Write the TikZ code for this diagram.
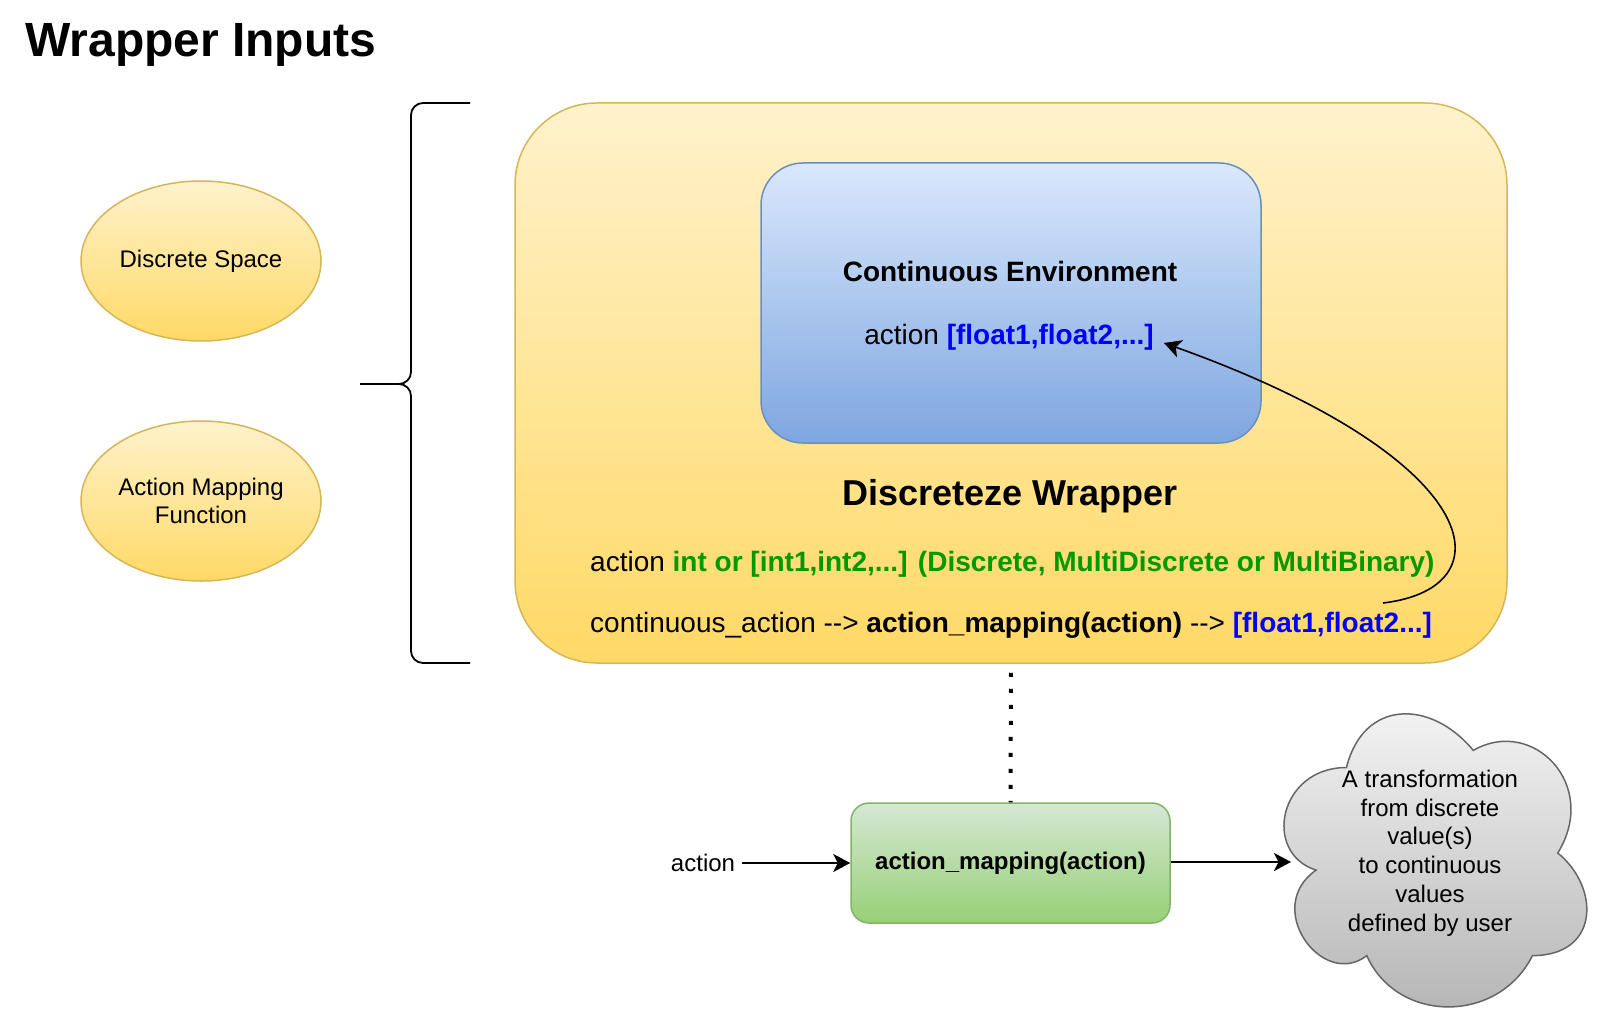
\documentclass[tikz,border=0pt]{standalone}
\usepackage{fontspec}
\setmainfont{Liberation Sans}
\usetikzlibrary{arrows.meta,shapes.geometric}
\definecolor{ylwA}{HTML}{FFF2CC}
\definecolor{ylwB}{HTML}{FFD966}
\definecolor{ylwS}{HTML}{D6B656}
\definecolor{bluA}{HTML}{DAE8FC}
\definecolor{bluB}{HTML}{7EA6E0}
\definecolor{bluS}{HTML}{6C8EBF}
\definecolor{grnA}{HTML}{D5E8D4}
\definecolor{grnB}{HTML}{97D077}
\definecolor{grnS}{HTML}{82B366}
\definecolor{gryA}{HTML}{F5F5F5}
\definecolor{gryB}{HTML}{B3B3B3}
\definecolor{gryS}{HTML}{666666}
\definecolor{txtG}{HTML}{009900}
\definecolor{txtB}{HTML}{0000FF}
\tikzset{
  fa/.style={font=\fontsize{24}{28.8}\selectfont},
  fb/.style={font=\fontsize{28}{33.6}\selectfont},
  fc/.style={font=\fontsize{36}{43}\selectfont\bfseries},
  fd/.style={font=\fontsize{48}{57}\selectfont\bfseries},
  ylwfill/.style={top color=ylwA, bottom color=ylwB, draw=ylwS, line width=1.5pt},
  arr/.style={line width=2pt, -{Stealth[length=17pt,width=18pt,inset=4.5pt]}},
}
\begin{document}
\begin{tikzpicture}[x=1pt,y=-1pt]
\useasboundingbox (0,0) rectangle (1600,1024);
\fill[white] (0,0) rectangle (1600,1024);

% title
\node[fd, anchor=base west, inner sep=0] (title) at (25,57) {Wrapper Inputs};

% input ellipses
\node[ellipse, ylwfill, minimum width=240pt, minimum height=160pt, inner sep=0, fa] (dspace) at (201,261) {Discrete Space};
\node[ellipse, ylwfill, minimum width=240pt, minimum height=160pt, inner sep=0, fa, align=center] (amf) at (201,501) {Action Mapping\\Function};

% brace
\draw[line width=1.8pt, rounded corners=12pt] (470,103) -- (411,103) -- (411,384) -- (360,384);
\draw[line width=1.8pt, rounded corners=12pt] (360,384) -- (411,384) -- (411,663) -- (470,663);

% wrapper box
\node[ylwfill, rounded corners=82pt, minimum width=992pt, minimum height=560pt, inner sep=0] (wrap) at (1011,383) {};
% continuous environment
\node[top color=bluA, bottom color=bluB, draw=bluS, line width=1.5pt, rounded corners=42pt, minimum width=500pt, minimum height=280pt, inner sep=0] (env) at (1011,303) {};
\node[fb, anchor=base, inner sep=0] (envtitle) at (1010,282) {\bfseries Continuous Environment};
\node[fb, anchor=base, inner sep=0] (envact) at (1009,344) {action \textcolor{txtB}{\bfseries [float1,float2,...]}};

\node[fc, anchor=base, inner sep=0] (wtitle) at (1010,505) {Discreteze Wrapper};
\node[fb, anchor=base west, inner sep=0] (wline1) at (590,571) {action \textcolor{txtG}{\bfseries int or [int1,int2,...] (Discrete, MultiDiscrete or MultiBinary)}};
\node[fb, anchor=base west, inner sep=0] (wline2) at (590,632) {continuous\_action -{}-> \textbf{action\_mapping(action)} -{}-> \textcolor{txtB}{\bfseries [float1,float2...]}};

\coordinate (cstart) at (1383,603);
\coordinate (cend) at (1164,343);
\draw[arr, line width=1.6pt] (cstart) .. controls (1510,588) and (1486,458) .. (cend);

% mapping function box
\node[top color=grnA, bottom color=grnB, draw=grnS, line width=1.5pt, rounded corners=18pt, minimum width=319pt, minimum height=120pt, inner sep=0, fa] (map) at (1010.5,863) {\bfseries action\_mapping(action)};
\node[fa, inner sep=7pt] (actin) at (703,863) {action};
\draw[arr] (actin.east) -- (map.west);

% dotted link
\draw[line width=4pt, dash pattern=on 4pt off 12pt, dash phase=7pt] (wrap.south) -- (map.north);

% cloud
\begin{scope}[shift={(1262,682)}, x=338pt, y=-342pt]
\draw[top color=gryA, bottom color=gryB, draw=gryS, line width=1.5pt]
  (0.25,0.25) .. controls (0.05,0.25) and (0,0.5) .. (0.16,0.55)
  .. controls (0,0.66) and (0.18,0.9) .. (0.31,0.8)
  .. controls (0.4,1) and (0.7,1) .. (0.8,0.8)
  .. controls (1,0.8) and (1,0.6) .. (0.875,0.5)
  .. controls (1,0.3) and (0.8,0.1) .. (0.625,0.2)
  .. controls (0.5,0.05) and (0.3,0.05) .. (0.25,0.25) -- cycle;
\end{scope}
\node[fa, align=center, inner sep=0] (cloudtxt) at (1430,853) {A transformation\\from discrete\\value(s)\\to continuous\\values\\defined by user};
\coordinate (cloudL) at (1291,862);
\draw[arr] (map.east |- cloudL) -- (cloudL);
\end{tikzpicture}
\end{document}
